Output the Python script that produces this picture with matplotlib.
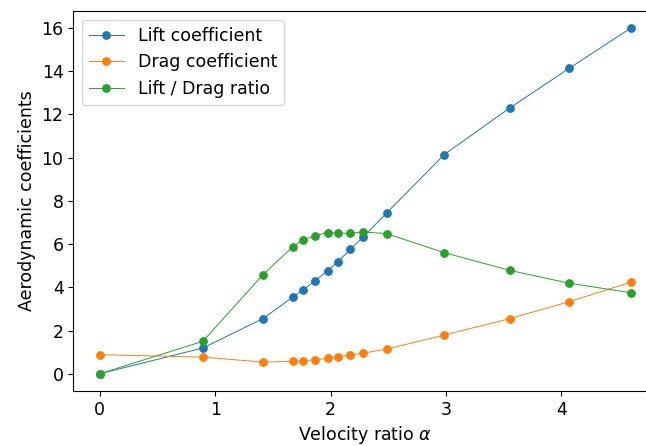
"""Lift, drag and lift/drag ratio against velocity ratio."""

import matplotlib
matplotlib.use("Agg")
import matplotlib.pyplot as plt

# ---------------------------------------------------------------------------
# Data
# ---------------------------------------------------------------------------
alpha = [0.0, 0.893, 1.413, 1.673, 1.759, 1.866, 1.973, 2.062, 2.172,
         2.279, 2.486, 2.985, 3.554, 4.065, 4.599]
lift = [0.0, 1.19, 2.55, 3.55, 3.87, 4.30, 4.77, 5.17, 5.77,
        6.31, 7.44, 10.14, 12.30, 14.12, 15.98]
drag = [0.88, 0.77, 0.54, 0.57, 0.60, 0.65, 0.71, 0.77, 0.88,
        0.95, 1.14, 1.79, 2.55, 3.33, 4.23]
ratio = [0.0, 1.50, 4.58, 5.88, 6.19, 6.39, 6.53, 6.50, 6.50,
         6.56, 6.48, 5.60, 4.78, 4.19, 3.75]

plt.rcParams["font.size"] = 12.5

fig = plt.figure(figsize=(6.46, 4.46), dpi=100)
# right spine sits just past the canvas edge in the reference
ax = fig.add_axes([0.1135, 0.1233, 0.9036, 0.852])

ax.plot(alpha, lift, "o-", lw=0.7, ms=5.3, label="Lift coefficient")
ax.plot(alpha, drag, "o-", lw=0.7, ms=5.3, label="Drag coefficient")
ax.plot(alpha, ratio, "o-", lw=0.7, ms=5.3, label="Lift / Drag ratio")

ax.set_xlabel(r"Velocity ratio $\alpha$")
ax.set_ylabel("Aerodynamic coefficients")
ax.legend(loc="upper left")

fig.savefig("out.png", dpi=100)
